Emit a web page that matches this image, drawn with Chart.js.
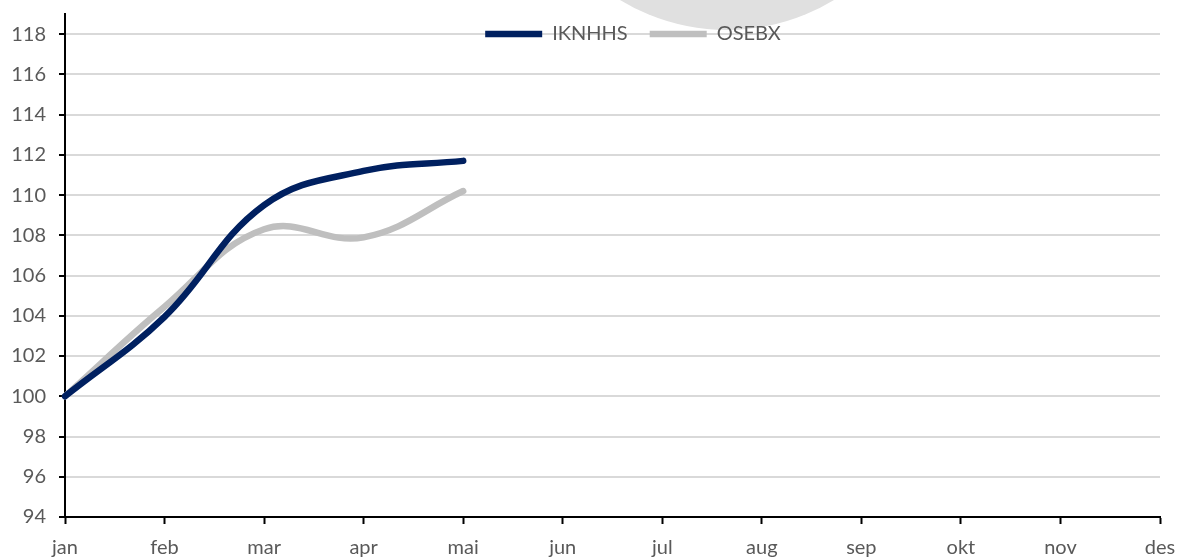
<!DOCTYPE html>
<html>
<head>
<meta charset="utf-8">
<script src="https://cdn.jsdelivr.net/npm/chart.js@4/dist/chart.umd.min.js"></script>
<style>
  html, body { margin: 0; padding: 0; background: #fff; }
  #wrap { width: 1181px; height: 559px; }
</style>
</head>
<body>
<div id="wrap"><canvas id="chart"></canvas></div>
<script>
const months = ['jan', 'feb', 'mar', 'apr', 'mai', 'jun', 'jul', 'aug', 'sep', 'okt', 'nov', 'des'];
const iknhhs = [100, 103.95, 109.5, 111.2, 111.7, null, null, null, null, null, null, null];
const osebx = [100, 104.45, 108.3, 107.9, 110.2, null, null, null, null, null, null, null];
const yTicks = [94, 96, 98, 100, 102, 104, 106, 108, 110, 112, 114, 116, 118];
const yMin = 94;
const yMax = 119;

const navy = '#002060';
const grey = '#bfbfbf';
const text = '#595959';
const font = { family: 'Lato, "Open Sans", sans-serif', size: 20 };

// faint round logo shape peeking in at the top
const watermark = {
  id: 'watermark',
  beforeDraw(chart) {
    const { ctx } = chart;
    ctx.save();
    ctx.fillStyle = '#e0e0e0';
    ctx.beginPath();
    ctx.arc(727, -176, 206, 0, Math.PI * 2);
    ctx.fill();
    ctx.restore();
  },
};

// legend sits on top of the plot instead of taking its own strip,
// nudged a bit right of centre like the original
const floatLegend = {
  id: 'floatLegend',
  afterInit(chart) {
    const lg = chart.legend;
    if (!lg) return;
    const fit = lg.fit;
    lg.fit = function () {
      fit.call(this);
      this._fullHeight = this.height;
      this.height = 0;
    };
  },
  afterLayout(chart) {
    const lg = chart.legend;
    if (!lg) return;
    lg.top -= 12;
    lg.height = lg._fullHeight;
    lg.bottom = lg.top + lg._fullHeight;
    lg.left += 53;
    lg.right += 53;
  },
};

new Chart(document.getElementById('chart'), {
  type: 'line',
  data: {
    labels: months,
    datasets: [
      {
        label: 'IKNHHS',
        data: iknhhs,
        borderColor: navy,
        backgroundColor: navy,
        borderWidth: 6.5,
        borderCapStyle: 'round',
        tension: 0.4,
        pointRadius: 0,
        order: 1,
      },
      {
        label: 'OSEBX',
        data: osebx,
        borderColor: grey,
        backgroundColor: grey,
        borderWidth: 6.5,
        borderCapStyle: 'round',
        tension: 0.4,
        pointRadius: 0,
        order: 2,
      },
    ],
  },
  options: {
    responsive: true,
    maintainAspectRatio: false,
    animation: false,
    layout: { padding: { top: 14, right: 21, left: 0, bottom: 0 } },
    plugins: {
      tooltip: { enabled: false },
      legend: {
        position: 'top',
        align: 'center',
        labels: {
          color: text,
          font,
          usePointStyle: true,
          pointStyle: 'line',
          pointStyleWidth: 57,
          boxHeight: 20,
          padding: 22,
        },
      },
    },
    scales: {
      x: {
        offset: false,
        afterFit: (scale) => {
          scale.height = 42;
          scale.paddingLeft = 0;
          scale.paddingRight = 0;
        },
        grid: {
          drawOnChartArea: false,
          drawTicks: true,
          tickLength: 7,
          tickColor: '#000',
          tickWidth: 2,
        },
        border: { color: '#000', width: 2 },
        ticks: { color: text, font, padding: 12, maxRotation: 0, autoSkip: false },
      },
      y: {
        min: yMin,
        max: yMax,
        afterFit: (scale) => {
          scale.width = 65;
          scale.paddingTop = 0;
          scale.paddingBottom = 0;
        },
        afterBuildTicks: (scale) => { scale.ticks = yTicks.map((v) => ({ value: v })); },
        grid: {
          color: '#d9d9d9',
          lineWidth: 2,
          tickLength: 6,
          tickColor: '#000',
          tickWidth: 2,
        },
        border: { color: '#000', width: 2 },
        ticks: { color: text, font, padding: 13 },
      },
    },
  },
  plugins: [watermark, floatLegend],
});
</script>
</body>
</html>
